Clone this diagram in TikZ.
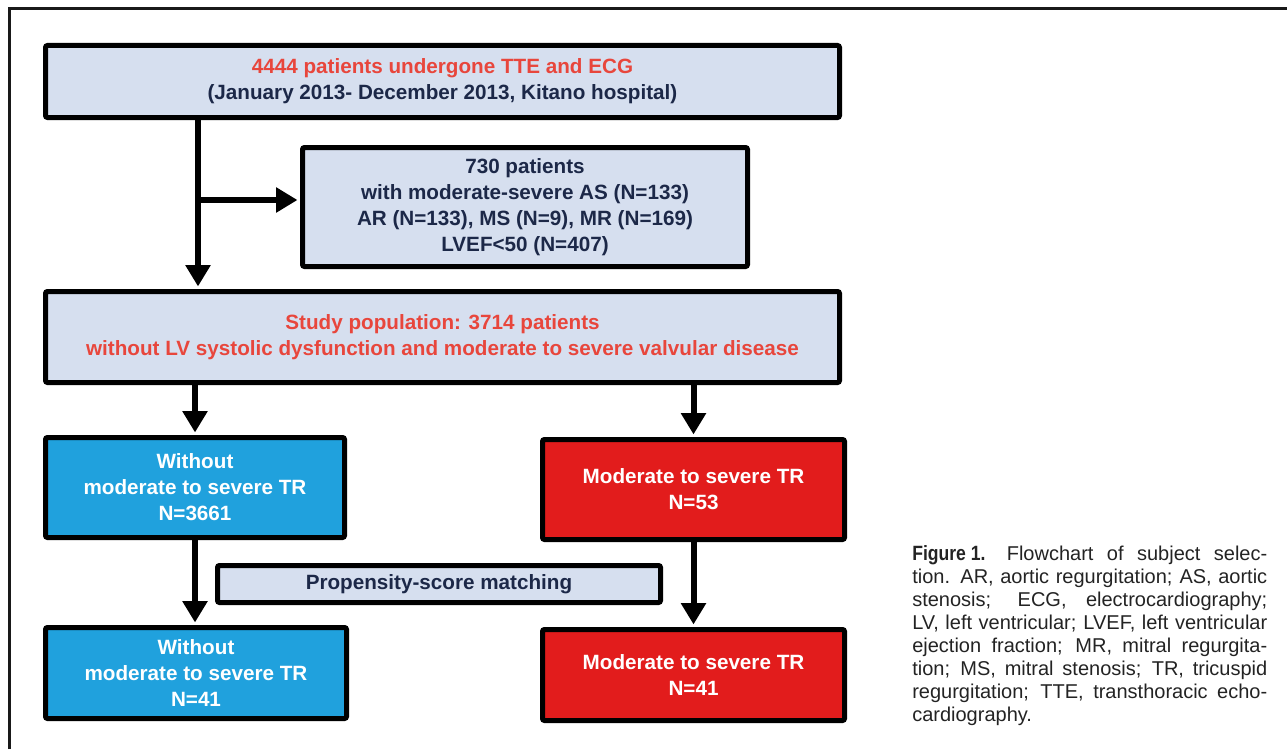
\documentclass[tikz,border=0pt]{standalone}
\usepackage{fontspec}
\setmainfont{Liberation Sans}
\newfontfamily\condfont[FakeStretch=0.85]{Liberation Sans}
\usetikzlibrary{arrows.meta}
\definecolor{boxfill}{RGB}{214,223,239}
\definecolor{redtext}{RGB}{232,70,60}
\definecolor{navytext}{RGB}{28,40,72}
\definecolor{bluefill}{RGB}{32,161,221}
\definecolor{redfill}{RGB}{226,28,28}
\definecolor{captext}{RGB}{35,35,35}

\begin{document}
\begin{tikzpicture}[
  x=0.75pt, y=-0.75pt,
  box/.style={rectangle, draw, line width=3.75pt, rounded corners=1.5pt, fill=boxfill,
    text=navytext, align=center, inner sep=0pt, font=\bfseries\fontsize{15.5}{19.5}\selectfont},
  bluebox/.style={box, fill=bluefill, text=white},
  redbox/.style={box, fill=redfill, text=white},
  flow/.style={line width=4.5pt, -{Triangle[length=16pt,width=18pt]}, shorten >=1.9pt},
  frame/.style={line width=2.25pt, draw=black!90}
]
  \useasboundingbox (0,0) rectangle (1287,749);
  \draw[frame] (9,749) -- (9,9) -- (1287,9);

  \node[box, minimum width=595.5pt, minimum height=54pt] (tte) at (442.5,81.5)
    {\textcolor{redtext}{4444 patients undergone TTE and ECG}\\(January 2013- December 2013, Kitano hospital)};
  \node[box, minimum width=333.75pt, minimum height=89.25pt] (excl) at (525,207)
    {730 patients\\with moderate-severe AS (N=133)\\AR (N=133), MS (N=9), MR (N=169)\\LVEF<50 (N=407)};
  \node[box, text=redtext, minimum width=595.5pt, minimum height=68.25pt] (study) at (442.5,337)
    {Study population: 3714 patients\\without LV systolic dysfunction and moderate to severe valvular disease};
  \node[bluebox, minimum width=224.25pt, minimum height=75pt] (noTR) at (195,487.5)
    {Without\\moderate to severe TR\\N=3661};
  \node[redbox, minimum width=226.5pt, minimum height=75pt] (TR) at (693.5,489.5)
    {Moderate to severe TR\\N=53};
  \node[box, minimum width=332.25pt, minimum height=27.75pt] (psm) at (439,584)
    {Propensity-score matching};
  \node[bluebox, minimum width=225.75pt, minimum height=68.25pt] (noTRm) at (196,673)
    {Without\\moderate to severe TR\\N=41};
  \node[redbox, minimum width=226.5pt, minimum height=68.25pt] (TRm) at (693.5,675)
    {Moderate to severe TR\\N=41};

  \coordinate (split) at (198,200);
  \draw[flow] (tte.south -| split) -- (study.north -| split);
  \draw[flow] (split) -- (split -| excl.west);
  \draw[flow] (study.south -| noTR.north) -- (noTR.north);
  \draw[flow] (study.south -| TR.north) -- (TR.north);
  \draw[flow] (noTR.south) -- (noTR.south |- noTRm.north);
  \draw[flow] (TR.south) -- (TR.south |- TRm.north);

  \node[anchor=north west, text width=266.25pt, align=justify, text=captext, inner sep=0pt,
    font=\fontsize{15}{17.25}\selectfont] (caption) at (912,545)
    {\tolerance=10000\hyphenpenalty=10000\noindent\mbox{\condfont\bfseries\fontsize{15.5}{17.25}\selectfont Figure 1.}\hspace{16pt}Flowchart of subject selec-\linebreak
    tion. AR, aortic regurgitation; AS, aortic\linebreak
    stenosis; ECG, electrocardiography;\linebreak
    LV, left ventricular; LVEF, left ventricular\linebreak
    ejection fraction; MR, mitral regurgita-\linebreak
    tion; MS, mitral stenosis; TR, tricuspid\linebreak
    regurgitation; TTE, transthoracic echo-\linebreak
    cardiography.};
\end{tikzpicture}
\end{document}
